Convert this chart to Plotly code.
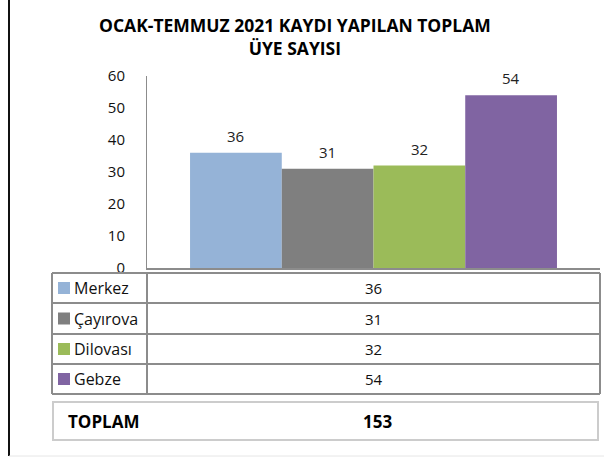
import plotly.graph_objects as go

# veriler
kategori = ["Ocak-Temmuz 2021"]
ilceler = ["Merkez", "Çayırova", "Dilovası", "Gebze"]
uye_sayisi = [36, 31, 32, 54]
renkler = ["#95B3D7", "#7F7F7F", "#9BBB59", "#8064A2"]
y_ticks = [0, 10, 20, 30, 40, 50, 60]
toplam = sum(uye_sayisi)

W, H = 604, 457
FONT = "Open Sans, Liberation Sans, sans-serif"
BARGAP = 0.19
X0, X1 = 147, 600


def px(x):
    return x / W


def py(y):
    return 1 - y / H


fig = go.Figure()
annotations = []

bar_w = (X1 - X0) * (1 - BARGAP) / len(ilceler)
for i, (ilce, deger, renk) in enumerate(zip(ilceler, uye_sayisi, renkler)):
    fig.add_trace(go.Bar(
        x=kategori, y=[deger], name=ilce,
        marker=dict(color=renk, line=dict(width=0)),
        hoverinfo="skip",
    ))
    # veri etiketi
    annotations.append(dict(text=str(deger), x=kategori[0], y=deger, xref="x", yref="y",
                            xshift=(i - (len(ilceler) - 1) / 2) * bar_w, yshift=17,
                            xanchor="center", yanchor="middle", showarrow=False,
                            font=dict(size=15, color="#222222", family=FONT)))

shapes = []

# cerceve
shapes.append(dict(type="line", xref="paper", yref="paper", x0=px(9), x1=px(9),
                   y0=py(0), y1=py(456), line=dict(color="#111111", width=2)))
shapes.append(dict(type="line", xref="paper", yref="paper", x0=px(9), x1=px(604),
                   y0=py(456), y1=py(456), line=dict(color="#e6e6e6", width=1)))

# veri tablosu
tablo_sol, tablo_ayrac, tablo_sag = 52, X0, X1
satirlar = [273, 303, 334, 364, 394]
cizgi = dict(color="#8c8c8c", width=2)
for yy in satirlar:
    shapes.append(dict(type="line", xref="paper", yref="paper", x0=px(tablo_sol), x1=px(tablo_sag),
                       y0=py(yy), y1=py(yy), line=cizgi))
for xx in [tablo_sol, tablo_ayrac, tablo_sag]:
    shapes.append(dict(type="line", xref="paper", yref="paper", x0=px(xx), x1=px(xx),
                       y0=py(satirlar[0]), y1=py(satirlar[-1]), line=cizgi))

for i, (ilce, deger, renk) in enumerate(zip(ilceler, uye_sayisi, renkler)):
    yc = (satirlar[i] + satirlar[i + 1]) / 2
    shapes.append(dict(type="rect", xref="paper", yref="paper", x0=px(58), x1=px(70),
                       y0=py(yc - 6), y1=py(yc + 6), fillcolor=renk, line=dict(width=0)))
    annotations.append(dict(text=ilce, xref="paper", yref="paper", x=px(72), y=py(yc),
                            xanchor="left", yanchor="middle", showarrow=False,
                            font=dict(size=16, color="#111111", family=FONT)))
    annotations.append(dict(text=str(deger), xref="paper", yref="paper",
                            x=px((tablo_ayrac + tablo_sag) / 2), y=py(yc),
                            xanchor="center", yanchor="middle", showarrow=False,
                            font=dict(size=15, color="#111111", family=FONT)))

# toplam kutusu
shapes.append(dict(type="rect", xref="paper", yref="paper", x0=px(53), x1=px(598),
                   y0=py(402), y1=py(440), line=dict(color="#cccccc", width=2)))
annotations.append(dict(text="<b>TOPLAM</b>", xref="paper", yref="paper", x=px(66), y=py(421),
                        xanchor="left", yanchor="middle", showarrow=False,
                        font=dict(size=17, color="#000000", family=FONT)))
annotations.append(dict(text="<b>%d</b>" % toplam, xref="paper", yref="paper", x=px(377), y=py(421),
                        xanchor="center", yanchor="middle", showarrow=False,
                        font=dict(size=17, color="#000000", family=FONT)))

# baslik
annotations.append(dict(text="<b>OCAK-TEMMUZ 2021 KAYDI YAPILAN TOPLAM<br>ÜYE SAYISI</b>",
                        xref="paper", yref="paper", x=px(295), y=py(36.5),
                        xanchor="center", yanchor="middle", showarrow=False,
                        font=dict(size=17.5, color="#000000", family=FONT)))

fig.update_layout(
    width=W, height=H,
    margin=dict(l=0, r=0, t=0, b=0),
    paper_bgcolor="white", plot_bgcolor="white",
    showlegend=False,
    barmode="group", bargap=BARGAP, bargroupgap=0,
    xaxis=dict(domain=[px(X0), px(X1)], showticklabels=False, showline=True,
               linecolor="#8c8c8c", linewidth=2, ticks="", automargin=False),
    yaxis=dict(domain=[py(268), py(76)], range=[0, 60], tickvals=y_ticks,
               showgrid=False, zeroline=False, showline=True, linecolor="#8c8c8c",
               linewidth=1, ticks="", ticklabelstandoff=18, automargin=False,
               tickfont=dict(size=15, color="#111111", family=FONT)),
    shapes=shapes,
    annotations=annotations,
    font=dict(family=FONT),
)

fig.write_html("out.html", config={"displayModeBar": False},
               post_script="document.body.style.margin='0px';")
